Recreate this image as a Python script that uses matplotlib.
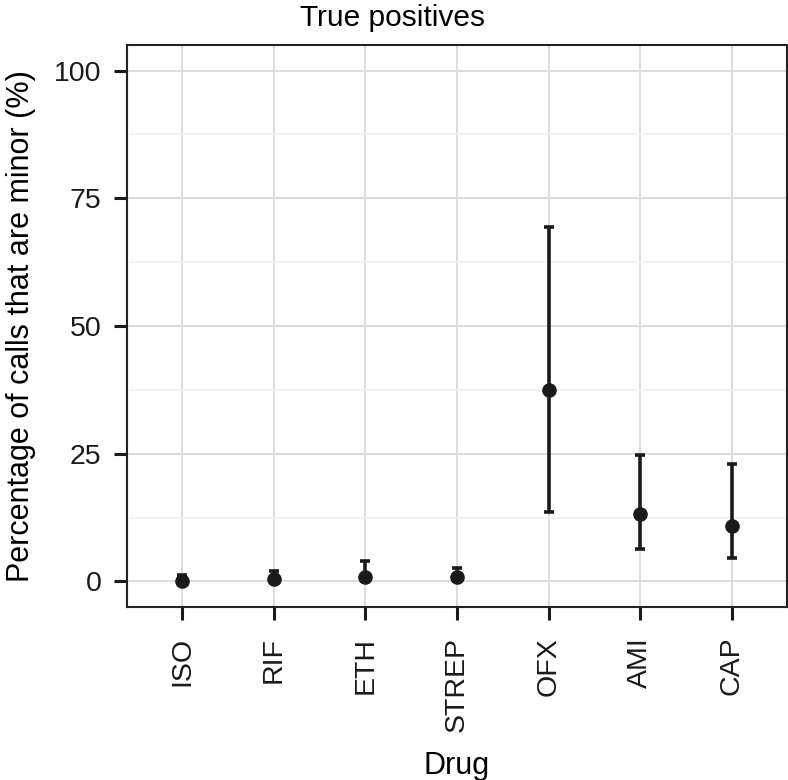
"""Percentage of minor calls among true positives, per drug"""

import matplotlib.pyplot as plt
import numpy as np
from matplotlib.ticker import MultipleLocator

drugs = ['ISO', 'RIF', 'ETH', 'STREP', 'OFX', 'AMI', 'CAP']
pct_minor = [0.0, 0.4, 0.8, 0.8, 37.5, 13.2, 10.8]
ci_low = [0.0, 0.0, 0.0, 0.0, 13.6, 6.4, 4.6]
ci_high = [1.3, 2.0, 4.0, 2.7, 69.4, 24.8, 23.0]

plt.rcParams['font.family'] = ['Liberation Sans', 'DejaVu Sans']

fig = plt.figure(figsize=(7.88, 7.80), dpi=100)
ax = fig.add_axes([127 / 788, 1 - 607 / 780, 660 / 788, 562 / 780])

x = np.arange(len(drugs))
y = np.array(pct_minor)
yerr = np.vstack([y - np.array(ci_low), np.array(ci_high) - y])
ax.errorbar(x, y, yerr=yerr, fmt='o', color='#1a1a1a', ms=9.5, elinewidth=2.6,
            capsize=3.8, capthick=2.6, zorder=3)

ax.set_xlim(-0.6, len(drugs) - 0.4)
ax.set_ylim(-5, 105)
ax.set_xticks(x)
ax.set_xticklabels(drugs, rotation=90)
ax.yaxis.set_minor_locator(MultipleLocator(12.5))
ax.set_yticks([0, 25, 50, 75, 100])

ax.grid(True, which='major', color='#dcdcdc', lw=1.4)
ax.grid(True, which='minor', axis='y', color='#f2f2f2', lw=1.2)
ax.set_axisbelow(True)
for s in ax.spines.values():
    s.set_color('#222222')
    s.set_linewidth(1.5)

ax.tick_params(axis='both', which='major', length=9.5, width=2.2, color='#1a1a1a',
               labelsize=20.5, labelcolor='#1a1a1a')
ax.tick_params(axis='x', pad=12)
ax.tick_params(axis='y', pad=9)
ax.tick_params(axis='y', which='minor', length=0)

# title is centred on the whole figure, not on the panel
ax.set_title('True positives', fontsize=21.5, pad=14, x=(392 - 127) / 660)
ax.set_xlabel('Drug', fontsize=22, labelpad=14)
ax.set_ylabel('Percentage of calls that are minor (%)', fontsize=22, labelpad=13)

fig.savefig('out.png', dpi=100)
